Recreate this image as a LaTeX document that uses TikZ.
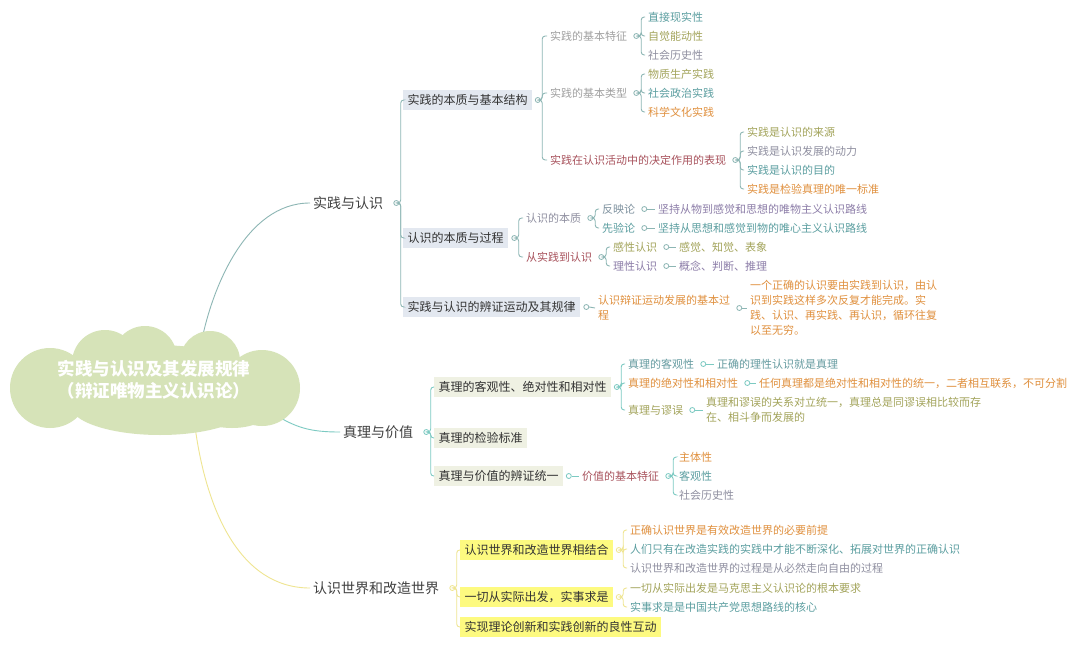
\documentclass[tikz,border=0pt]{standalone}
\usepackage{fontspec}
\setmainfont{Noto Sans CJK SC}
\usetikzlibrary{positioning,backgrounds}

\definecolor{brA}{HTML}{8DB6B4}
\definecolor{brB}{HTML}{7CCAC2}
\definecolor{brC}{HTML}{EFE591}
\definecolor{boxA}{HTML}{E3E8F0}
\definecolor{boxB}{HTML}{EFF1E3}
\definecolor{boxC}{HTML}{FDFA80}
\definecolor{cloudgreen}{HTML}{D6E3B8}
\definecolor{cGray}{HTML}{A0A0A0}
\definecolor{cTeal}{HTML}{5B9EA0}
\definecolor{cOlive}{HTML}{A3A45B}
\definecolor{cSlate}{HTML}{8F8FA0}
\definecolor{cOrange}{HTML}{E0903E}
\definecolor{cRed}{HTML}{A8525C}
\definecolor{cPurple}{HTML}{8C7DA8}

\begin{document}
\begin{tikzpicture}[x=1pt, y=-1pt,
	leaf/.style={anchor=west, inner sep=3pt, align=left, font=\fontsize{11}{15}\selectfont},
	topic/.style={anchor=west, inner xsep=4.5pt, inner ysep=4pt, font=\fontsize{12}{14}\selectfont, text=black!80},
	main/.style={anchor=west, inner sep=3pt, font=\fontsize{14}{16}\selectfont, text=black!75},
	knob/.style={circle, draw=#1, fill=white, inner sep=0pt, minimum size=5pt, line width=0.8pt},
	link/.style={line width=0.9pt, rounded corners=3pt}]
	\begin{scope}[on background layer]
		\fill[white] (0,0) rectangle (1080,645);
	\end{scope}
	\useasboundingbox (0,0) rectangle (1080,645);
	
	% cloud
	\fill[cloudgreen] (154,385) ellipse [x radius=118, y radius=40];
	\fill[cloudgreen] (50,388) circle (40);
	\fill[cloudgreen] (105,363) circle (33);
	\fill[cloudgreen] (145,358) circle (32);
	\fill[cloudgreen] (210,361) circle (30);
	\fill[cloudgreen] (262,388) circle (38);
	\fill[cloudgreen] (160,405) ellipse [x radius=90, y radius=30];
	\fill[cloudgreen] (232,408) ellipse [x radius=40, y radius=20];
	\node[minimum width=230, minimum height=80, align=center, text=white,
		font=\fontsize{17.5}{22}\selectfont\bfseries] (root) at (154,380)
		{实践与认识及其发展规律\\（辩证唯物主义认识论）};
	
	% main branches
	\node[main] (pr) at (310,203) {实践与认识};
	\node[main] (tv) at (340,432) {真理与价值};
	\node[main] (wd) at (310,588) {认识世界和改造世界};
	\node[knob=brA, right=7pt of pr] (kpr) {};
	\node[knob=brB, right=7pt of tv] (ktv) {};
	\node[knob=brC, right=7pt of wd] (kwd) {};
	\begin{scope}[on background layer]
		\draw[link, brA] (root.40) .. controls (212,290) and (245,203) .. (pr.west);
		\draw[link, brB] (root.-15) .. controls (295,428) and (310,432) .. (tv.west);
		\draw[link, brC] (root.-45) .. controls (205,510) and (240,588) .. (wd.west);
	\end{scope}
	
	% Branch 1
	\node[topic, fill=boxA] (prA) at (403,100) {实践的本质与基本结构};
	\node[topic, fill=boxA] (prB) at (403,238) {认识的本质与过程};
	\node[topic, fill=boxA] (prC) at (403,307) {实践与认识的辨证运动及其规律};
	\foreach \c in {prA,prB,prC}
		\draw[link, brA] (kpr.east) -- ++(1.5,0) |- (\c.west);
	
	\node[knob=brA, right=2.5pt of prA] (kprA) {};
	\node[leaf, text=cGray] (prA1) at (547,36) {实践的基本特征};
	\node[leaf, text=cGray] (prA2) at (547,93) {实践的基本类型};
	\node[leaf, text=cRed] (prA3) at (547,160) {实践在认识活动中的决定作用的表现};
	\foreach \c in {prA1,prA2,prA3}
		\draw[link, brA] (kprA.east) -- ++(1.5,0) |- (\c.west);
	
	\node[knob=brA, right=3pt of prA1] (kprA1) {};
	\node[leaf, text=cTeal] (prA1a) at (645,17) {直接现实性};
	\node[leaf, text=cOlive] (prA1b) at (645,36) {自觉能动性};
	\node[leaf, text=cSlate] (prA1c) at (645,55) {社会历史性};
	\foreach \c in {prA1a,prA1b,prA1c}
		\draw[link, brA] (kprA1.east) -- ++(2,0) |- (\c.west);
	
	\node[knob=brA, right=3pt of prA2] (kprA2) {};
	\node[leaf, text=cOlive] (prA2a) at (645,74) {物质生产实践};
	\node[leaf, text=cTeal] (prA2b) at (645,93) {社会政治实践};
	\node[leaf, text=cOrange] (prA2c) at (645,112) {科学文化实践};
	\foreach \c in {prA2a,prA2b,prA2c}
		\draw[link, brA] (kprA2.east) -- ++(2,0) |- (\c.west);
	
	\node[knob=brA, right=3pt of prA3] (kprA3) {};
	\node[leaf, text=cOlive] (prA3a) at (744,132) {实践是认识的来源};
	\node[leaf, text=cSlate] (prA3b) at (744,151) {实践是认识发展的动力};
	\node[leaf, text=cTeal] (prA3c) at (744,170) {实践是认识的目的};
	\node[leaf, text=cOrange] (prA3d) at (744,189) {实践是检验真理的唯一标准};
	\foreach \c in {prA3a,prA3b,prA3c,prA3d}
		\draw[link, brA] (kprA3.east) -- ++(2,0) |- (\c.west);
	
	\node[knob=brA, right=3pt of prB] (kprB) {};
	\node[leaf, text=cSlate] (prB1) at (523,218) {认识的本质};
	\node[leaf, text=cRed] (prB2) at (523,257) {从实践到认识};
	\foreach \c in {prB1,prB2}
		\draw[link, brA] (kprB.east) -- ++(1.5,0) |- (\c.west);
	
	\node[knob=brA, right=3pt of prB1] (kprB1) {};
	\node[leaf, text=cSlate!70!cTeal] (prB1a) at (599,209) {反映论};
	\node[leaf, text=cTeal] (prB1b) at (599,228) {先验论};
	\foreach \c in {prB1a,prB1b}
		\draw[link, brA] (kprB1.east) -- ++(2,0) |- (\c.west);
	\node[knob=brA, right=3pt of prB1a] (kprB1a) {};
	\node[knob=brA, right=3pt of prB1b] (kprB1b) {};
	\node[leaf, text=cPurple] (prB1a1) at (655,209) {坚持从物到感觉和思想的唯物主义认识路线};
	\node[leaf, text=cTeal] (prB1b1) at (655,228) {坚持从思想和感觉到物的唯心主义认识路线};
	\draw[link, brA] (kprB1a.east) -- (prB1a1.west);
	\draw[link, brA] (kprB1b.east) -- (prB1b1.west);
	
	\node[knob=brA, right=3pt of prB2] (kprB2) {};
	\node[leaf, text=cOlive] (prB2a) at (610,247) {感性认识};
	\node[leaf, text=cPurple] (prB2b) at (610,266) {理性认识};
	\foreach \c in {prB2a,prB2b}
		\draw[link, brA] (kprB2.east) -- ++(2,0) |- (\c.west);
	\node[knob=brA, right=3pt of prB2a] (kprB2a) {};
	\node[knob=brA, right=3pt of prB2b] (kprB2b) {};
	\node[leaf, text=cOlive] (prB2a1) at (676,247) {感觉、知觉、表象};
	\node[leaf, text=cPurple] (prB2b1) at (676,266) {概念、判断、推理};
	\draw[link, brA] (kprB2a.east) -- (prB2a1.west);
	\draw[link, brA] (kprB2b.east) -- (prB2b1.west);
	
	\node[knob=brA, right=3pt of prC] (kprC) {};
	\node[leaf, text=cOrange] (prC1) at (595,308) {认识辩证运动发展的基本过\\程};
	\draw[link, brA] (kprC.east) -- (prC1.west);
	\node[knob=brA, right=3pt of prC1] (kprC1) {};
	\node[leaf, text=cOrange] (prC1a) at (747,308)
		{一个正确的认识要由实践到认识，由认\\识到实践这样多次反复才能完成。实\\践、认识、再实践、再认识，循环往复\\以至无穷。};
	\draw[link, brA] (kprC1.east) -- (prC1a.west);
	
	% Branch 2
	\node[topic, fill=boxB] (tvA) at (434,387) {真理的客观性、绝对性和相对性};
	\node[topic, fill=boxB] (tvB) at (434,438) {真理的检验标准};
	\node[topic, fill=boxB] (tvC) at (434,476) {真理与价值的辨证统一};
	\foreach \c in {tvA,tvB,tvC}
		\draw[link, brB] (ktv.east) -- ++(1.5,0) |- (\c.west);
	
	\node[knob=brB, right=2.5pt of tvA] (ktvA) {};
	\node[leaf, text=cTeal!80!cSlate] (tvA1) at (625,364) {真理的客观性};
	\node[leaf, text=cOrange] (tvA2) at (625,383) {真理的绝对性和相对性};
	\node[leaf, text=cOlive] (tvA3) at (625,410) {真理与谬误};
	\foreach \c in {tvA1,tvA2,tvA3}
		\draw[link, brB] (ktvA.east) -- ++(1.5,0) |- (\c.west);
	\node[knob=brB, right=3pt of tvA1] (ktvA1) {};
	\node[knob=brB, right=3pt of tvA2] (ktvA2) {};
	\node[knob=brB, right=3pt of tvA3] (ktvA3) {};
	\node[leaf, text=cTeal!80!cSlate] (tvA1a) at (714,364) {正确的理性认识就是真理};
	\node[leaf, text=cOrange] (tvA2a) at (756,383) {任何真理都是绝对性和相对性的统一，二者相互联系，不可分割};
	\node[leaf, text=cOlive] (tvA3a) at (703,410) {真理和谬误的关系对立统一，真理总是同谬误相比较而存\\在、相斗争而发展的};
	\draw[link, brB] (ktvA1.east) -- (tvA1a.west);
	\draw[link, brB] (ktvA2.east) -- (tvA2a.west);
	\draw[link, brB] (ktvA3.east) -- (tvA3a.west);
	
	\node[knob=brB, right=2.5pt of tvC] (ktvC) {};
	\node[leaf, text=cRed] (tvC1) at (579,476) {价值的基本特征};
	\draw[link, brB] (ktvC.east) -- (tvC1.west);
	\node[knob=brB, right=3pt of tvC1] (ktvC1) {};
	\node[leaf, text=cOrange] (tvC1a) at (676,457) {主体性};
	\node[leaf, text=cTeal] (tvC1b) at (676,476) {客观性};
	\node[leaf, text=cSlate] (tvC1c) at (676,495) {社会历史性};
	\foreach \c in {tvC1a,tvC1b,tvC1c}
		\draw[link, brB] (ktvC1.east) -- ++(2,0) |- (\c.west);
	
	% Branch 3
	\node[topic, fill=boxC] (wdA) at (460,550) {认识世界和改造世界相结合};
	\node[topic, fill=boxC] (wdB) at (460,597) {一切从实际出发，实事求是};
	\node[topic, fill=boxC] (wdC) at (460,627) {实现理论创新和实践创新的良性互动};
	\foreach \c in {wdA,wdB,wdC}
		\draw[link, brC] (kwd.east) -- ++(1.5,0) |- (\c.west);
	
	\node[knob=brC, right=2.5pt of wdA] (kwdA) {};
	\node[leaf, text=cOrange] (wdA1) at (627,530) {正确认识世界是有效改造世界的必要前提};
	\node[leaf, text=cTeal] (wdA2) at (627,549) {人们只有在改造实践的实践中才能不断深化、拓展对世界的正确认识};
	\node[leaf, text=cSlate] (wdA3) at (627,568) {认识世界和改造世界的过程是从必然走向自由的过程};
	\foreach \c in {wdA1,wdA2,wdA3}
		\draw[link, brC] (kwdA.east) -- ++(1.5,0) |- (\c.west);
	
	\node[knob=brC, right=2.5pt of wdB] (kwdB) {};
	\node[leaf, text=cOlive] (wdB1) at (627,588) {一切从实际出发是马克思主义认识论的根本要求};
	\node[leaf, text=cTeal] (wdB2) at (627,607) {实事求是是中国共产党思想路线的核心};
	\foreach \c in {wdB1,wdB2}
		\draw[link, brC] (kwdB.east) -- ++(1.5,0) |- (\c.west);
\end{tikzpicture}
\end{document}
